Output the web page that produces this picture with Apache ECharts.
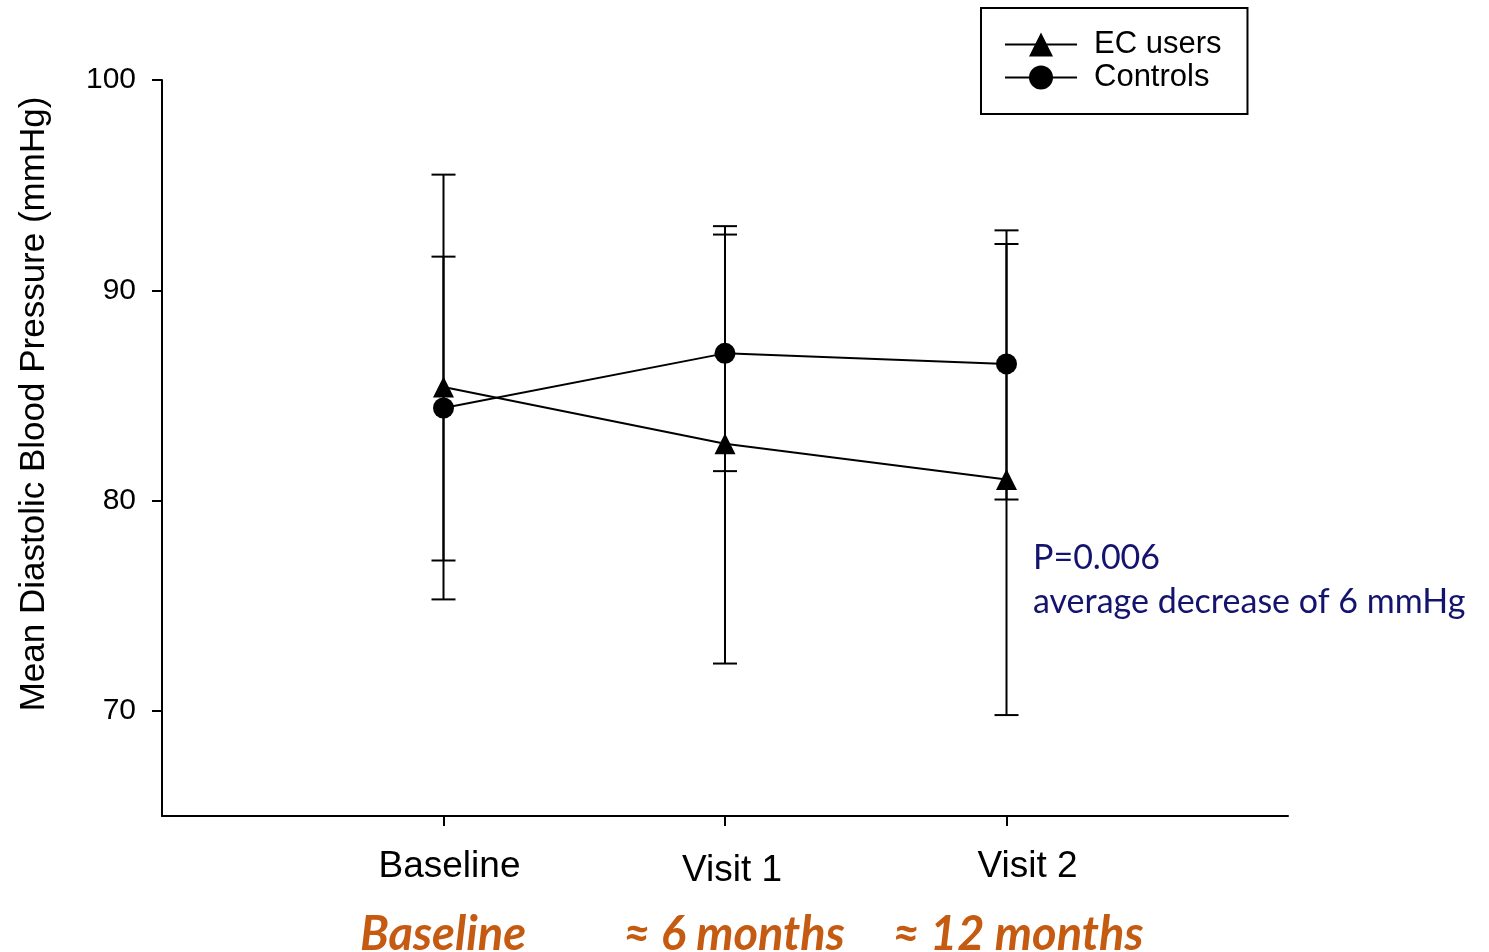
<!DOCTYPE html>
<html>
<head>
<meta charset="utf-8">
<script src="https://cdn.jsdelivr.net/npm/echarts@6/dist/echarts.min.js"></script>
<style>
html,body{margin:0;padding:0;background:#fff;}
#chart{width:1489px;height:952px;}
</style>
</head>
<body>
<div id="chart"></div>
<script>
// ---- data ----
const categories = ['Baseline', 'Visit 1', 'Visit 2'];
const timeLabels = ['Baseline', '\u2248 6 months', '\u2248 12 months'];
const yTicks = [70, 80, 90, 100];
const yTitle = 'Mean Diastolic Blood Pressure (mmHg)';
const ecMean = [85.4, 82.7, 81.0];
const ecLow = [75.3, 72.25, 69.8];
const ecHigh = [95.5, 93.05, 92.2];
const ctlMean = [84.4, 87.0, 86.5];
const ctlLow = [77.15, 81.4, 80.05];
const ctlHigh = [91.6, 92.65, 92.85];
const annotation = ['P=0.006', 'average decrease of 6 mmHg'];

const chart = echarts.init(document.getElementById('chart'));
const idx = categories.map((c, i) => i);

function errData(low, high) {
  return idx.map(i => [i, low[i], high[i]]);
}
function renderErr(params, api) {
  const x = api.value(0);
  const lo = api.coord([x, api.value(1)]);
  const hi = api.coord([x, api.value(2)]);
  const hw = 12;
  const style = { stroke: '#000', lineWidth: 2 };
  return {
    type: 'group',
    children: [
      { type: 'line', shape: { x1: lo[0], y1: lo[1], x2: hi[0], y2: hi[1] }, style },
      { type: 'line', shape: { x1: lo[0] - hw, y1: lo[1], x2: lo[0] + hw, y2: lo[1] }, style },
      { type: 'line', shape: { x1: hi[0] - hw, y1: hi[1], x2: hi[0] + hw, y2: hi[1] }, style }
    ]
  };
}

const option = {
  animation: false,
  backgroundColor: '#fff',
  grid: { left: 162, right: 201, top: 80, bottom: 136 },
  legend: {
    data: ['EC users', 'Controls'],
    orient: 'vertical',
    left: 981, top: 8,
    padding: [21, 26, 21, 23],
    itemWidth: 72, itemHeight: 30, itemGap: 2,
    borderColor: '#000', borderWidth: 2,
    textStyle: { fontFamily: 'Liberation Sans', fontSize: 31, color: '#000', lineHeight: 30, padding: [0, 0, 0, 12] }
  },
  xAxis: {
    type: 'value', min: -1, max: 3,
    splitLine: { show: false },
    axisLine: { onZero: false, lineStyle: { color: '#000', width: 2 } },
    axisTick: { customValues: idx, length: 10, lineStyle: { color: '#000', width: 2 } },
    axisLabel: {
      customValues: idx,
      margin: 32,
      formatter: v => '{l' + v + '|' + categories[v] + '}',
      rich: {
        l0: { fontFamily: 'Liberation Sans', fontSize: 37, color: '#000', padding: [0, 0, 0, 12] },
        l1: { fontFamily: 'Liberation Sans', fontSize: 37, color: '#000', padding: [4, 0, 0, 14] },
        l2: { fontFamily: 'Liberation Sans', fontSize: 37, color: '#000', padding: [0, 0, 6, 42] }
      }
    }
  },
  yAxis: {
    type: 'value', min: 65, max: 100,
    splitLine: { show: false },
    axisLine: { show: true, onZero: false, lineStyle: { color: '#000', width: 2 } },
    axisTick: { show: true, customValues: yTicks, length: 10, lineStyle: { color: '#000', width: 2 } },
    axisLabel: { customValues: yTicks, margin: 26, fontFamily: 'Liberation Sans', fontSize: 30, color: '#000' }
  },
  series: [
    { type: 'custom', name: 'ecErr', data: errData(ecLow, ecHigh), renderItem: renderErr, z: 1, silent: true },
    { type: 'custom', name: 'ctlErr', data: errData(ctlLow, ctlHigh), renderItem: renderErr, z: 1, silent: true },
    {
      type: 'line', name: 'EC users', data: idx.map(i => [i, ecMean[i]]),
      symbol: 'triangle', symbolSize: 21, z: 3,
      itemStyle: { color: '#000' }, lineStyle: { color: '#000', width: 2 }
    },
    {
      type: 'line', name: 'Controls', data: idx.map(i => [i, ctlMean[i]]),
      symbol: 'circle', symbolSize: 21, z: 3,
      itemStyle: { color: '#000' }, lineStyle: { color: '#000', width: 2 }
    }
  ],
  graphic: [
    { type: 'text', x: 34, y: 404, rotation: Math.PI / 2, style: { text: yTitle, font: '35px "Liberation Sans"', fill: '#000', align: 'center', verticalAlign: 'middle' } },
    { type: 'text', left: 1033, top: 541, style: { text: annotation[0], font: '34px Lato', fill: '#14146e' } },
    { type: 'text', left: 1033, top: 585, style: { text: annotation[1], font: '34px Lato', fill: '#14146e' } },
    { type: 'text', x: 443, y: 935, style: { text: timeLabels[0], font: 'italic bold 47px Lato', fill: '#c55a11', align: 'center', verticalAlign: 'middle' } },
    { type: 'text', x: 734, y: 935, style: { text: timeLabels[1], font: 'italic bold 47px Lato', fill: '#c55a11', align: 'center', verticalAlign: 'middle' } },
    { type: 'text', x: 1018, y: 935, style: { text: timeLabels[2], font: 'italic bold 47px Lato', fill: '#c55a11', align: 'center', verticalAlign: 'middle' } }
  ]
};
chart.setOption(option);
</script>
</body>
</html>
